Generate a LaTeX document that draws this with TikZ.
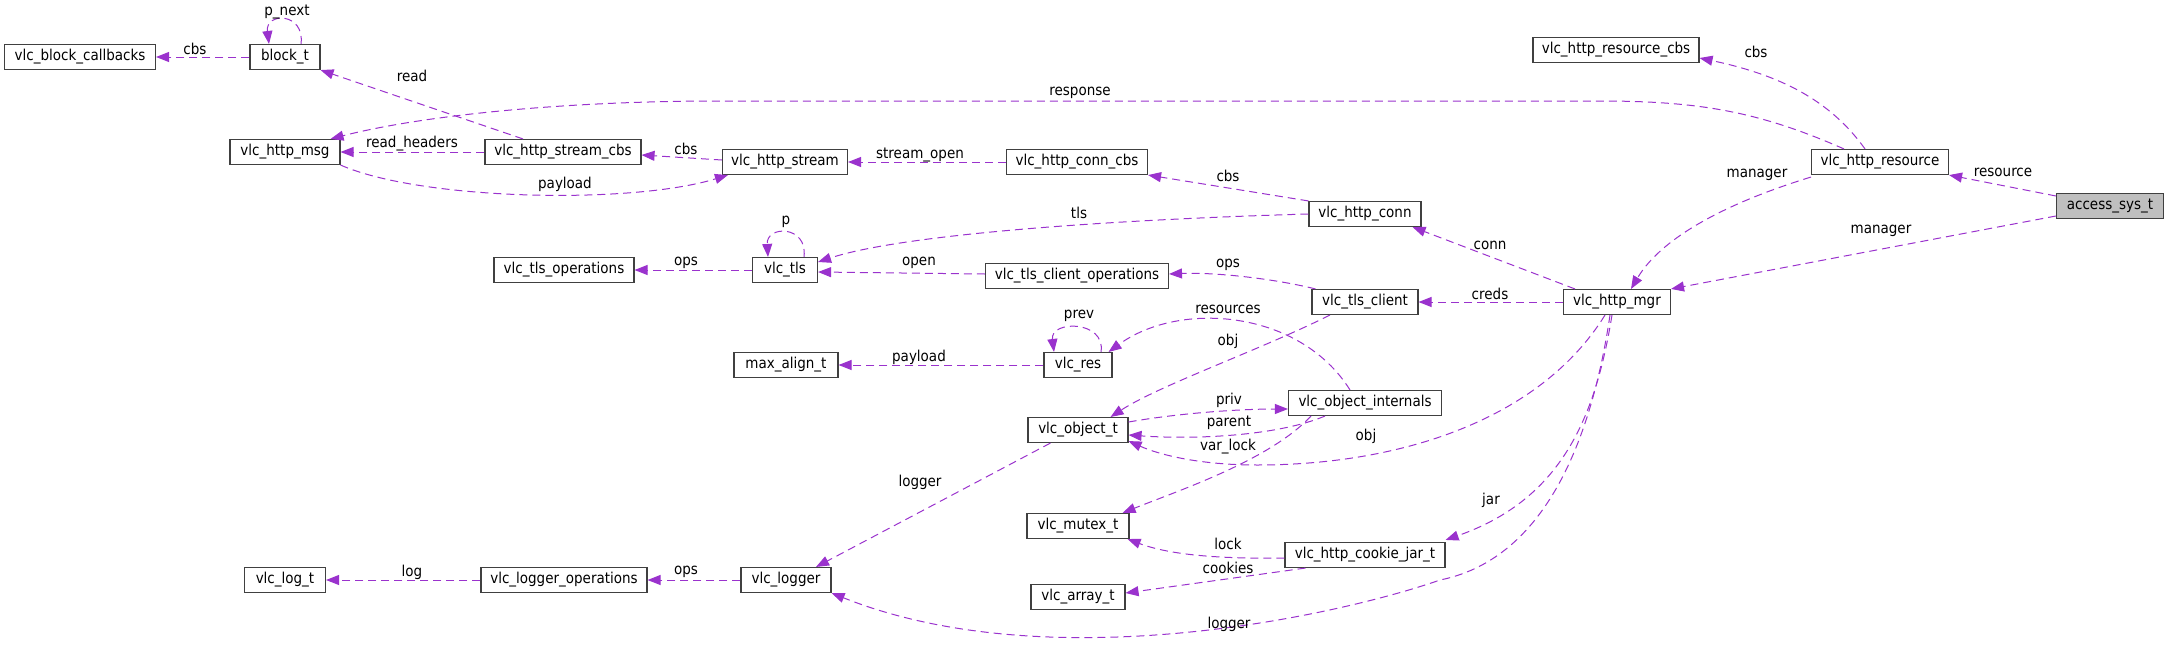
\documentclass[tikz,border=0pt]{standalone}
\usepackage{fontspec}
\setmainfont{DejaVu Sans Condensed}
\usetikzlibrary{arrows.meta}
\definecolor{edgecol}{HTML}{9A32CD}

\begin{document}
\begin{tikzpicture}[x=1pt, y=-1pt,
  cls/.style={rectangle, draw=black!75, line width=1.1pt, fill=white, minimum height=25, inner sep=0pt, font=\fontsize{15}{18}\selectfont},
  lbl/.style={inner sep=0pt, font=\fontsize{15}{18}\selectfont},
  edge/.style={draw=edgecol, line width=1pt, dash pattern=on 8pt off 5pt, -{Triangle[length=13pt, width=10pt]}}]
  \useasboundingbox (0,0) rectangle (2169,645);
  \node[cls, minimum width=151] (cb) at (80, 57) {vlc\_block\_callbacks};
  \node[cls, minimum width=70] (blk) at (285, 57) {block\_t};
  \node[cls, minimum width=110] (msg) at (285, 152) {vlc\_http\_msg};
  \node[cls, minimum width=156] (scbs) at (563, 152) {vlc\_http\_stream\_cbs};
  \node[cls, minimum width=125] (strm) at (785, 162) {vlc\_http\_stream};
  \node[cls, minimum width=141] (ccbs) at (1077, 162) {vlc\_http\_conn\_cbs};
  \node[cls, minimum width=112] (conn) at (1365, 214) {vlc\_http\_conn};
  \node[cls, minimum width=166] (rcbs) at (1616, 50) {vlc\_http\_resource\_cbs};
  \node[cls, minimum width=137] (res) at (1880, 162) {vlc\_http\_resource};
  \node[cls, minimum width=107, fill=gray!50] (acc) at (2110, 206) {access\_sys\_t};
  \node[cls, minimum width=107] (mgr) at (1617, 302) {vlc\_http\_mgr};
  \node[cls, minimum width=140] (tlsops) at (564, 270) {vlc\_tls\_operations};
  \node[cls, minimum width=65] (tls) at (785, 270) {vlc\_tls};
  \node[cls, minimum width=183] (tcops) at (1077, 276) {vlc\_tls\_client\_operations};
  \node[cls, minimum width=106] (tcl) at (1365, 302) {vlc\_tls\_client};
  \node[cls, minimum width=104] (maxal) at (786, 365) {max\_align\_t};
  \node[cls, minimum width=68] (vres) at (1078, 365) {vlc\_res};
  \node[cls, minimum width=153] (oint) at (1365, 403) {vlc\_object\_internals};
  \node[cls, minimum width=100] (obj) at (1078, 430) {vlc\_object\_t};
  \node[cls, minimum width=102] (mtx) at (1078, 526) {vlc\_mutex\_t};
  \node[cls, minimum width=90] (lgr) at (786, 580) {vlc\_logger};
  \node[cls, minimum width=160] (jar) at (1365, 555) {vlc\_http\_cookie\_jar\_t};
  \node[cls, minimum width=94] (arr) at (1078, 597) {vlc\_array\_t};
  \node[cls, minimum width=81] (logt) at (285, 580) {vlc\_log\_t};
  \node[cls, minimum width=166] (lops) at (564, 580) {vlc\_logger\_operations};
  \draw[edge] (blk.west) -- (cb.east) node[lbl] at (195, 49) {cbs};
  \draw[edge] ([xshift=16pt]blk.north) .. controls (305, 12) and (265, 12) .. ([xshift=-16pt]blk.north) node[lbl] at (287, 12) {p\_next};
  \draw[edge] ([xshift=-40pt]scbs.north) -- (blk.south east) node[lbl] at (412, 76) {read};
  \draw[edge] ([xshift=-36pt]res.north) .. controls (1760, 112) and (1700, 101) .. (1600, 101) -- (720, 101) .. controls (560, 101) and (420, 116) .. ([xshift=-10pt]msg.north east) node[lbl] at (1080, 93) {response};
  \draw[edge] (scbs.west) -- (msg.east) node[lbl] at (412, 144) {read\_headers};
  \draw[edge] (msg.south east) .. controls (420, 200) and (630, 205) .. ([xshift=6pt]strm.south west) node[lbl] at (565, 184) {payload};
  \draw[edge] ([yshift=2pt]strm.west) -- ([yshift=-3pt]scbs.east) node[lbl] at (686, 149) {cbs};
  \draw[edge] (ccbs.west) -- (strm.east) node[lbl] at (920, 155) {stream\_open};
  \draw[edge] (conn.north west) -- (ccbs.south east) node[lbl] at (1228, 176) {cbs};
  \draw[edge] (conn.west) .. controls (1100, 220) and (900, 235) .. ([yshift=8pt]tls.east) node[lbl] at (1079, 213) {tls};
  \draw[edge] ([xshift=19pt]tls.north) .. controls (808, 225) and (766, 225) .. ([xshift=-17pt]tls.north) node[lbl] at (786, 222) {p};
  \draw[edge] (tls.west) -- (tlsops.east) node[lbl] at (686, 263) {ops};
  \draw[edge] ([yshift=2pt]tcops.west) -- ([yshift=-2pt]tls.east) node[lbl] at (919, 263) {open};
  \draw[edge] ([xshift=4pt]tcl.north west) .. controls (1280, 280) and (1220, 272) .. ([yshift=2pt]tcops.east) node[lbl] at (1228, 265) {ops};
  \draw[edge] ([xshift=12pt]mgr.north west) -- ([xshift=-9pt]conn.south east) node[lbl] at (1490, 245) {conn};
  \draw[edge] (mgr.west) -- (tcl.east) node[lbl] at (1490, 294) {creds};
  \draw[edge] ([xshift=-15pt]res.north) .. controls (1830, 100) and (1780, 75) .. ([yshift=-8pt]rcbs.east) node[lbl] at (1756, 52) {cbs};
  \draw[edge] ([yshift=-2pt]res.south west) .. controls (1720, 205) and (1660, 240) .. ([xshift=14pt]mgr.north) node[lbl] at (1757, 175) {manager};
  \draw[edge] ([yshift=10pt]acc.west) -- (res.south east) node[lbl] at (2003, 172) {resource};
  \draw[edge] ([yshift=-10pt]acc.west) -- (mgr.north east) node[lbl] at (1881, 231) {manager};
  \draw[edge] ([xshift=23pt]vres.north) .. controls (1106, 320) and (1050, 320) .. ([xshift=-24pt]vres.north) node[lbl] at (1079, 316) {prev};
  \draw[edge] (vres.west) -- (maxal.east) node[lbl] at (919, 357) {payload};
  \draw[edge] ([xshift=-15pt]oint.north) .. controls (1300, 310) and (1180, 300) .. ([xshift=-4pt]vres.north east) node[lbl] at (1228, 309) {resources};
  \draw[edge] ([xshift=-35pt]tcl.south) .. controls (1260, 350) and (1160, 385) .. ([xshift=-18pt]obj.north east) node[lbl] at (1228, 341) {obj};
  \draw[edge] ([yshift=8pt]obj.east) .. controls (1180, 413) and (1240, 409) .. ([yshift=-6pt]oint.west) node[lbl] at (1229, 400) {priv};
  \draw[edge] ([xshift=37pt]oint.south west) .. controls (1280, 435) and (1200, 440) .. ([yshift=-5pt]obj.east) node[lbl] at (1229, 423) {parent};
  \draw[edge] ([xshift=-12pt]mgr.south) .. controls (1540, 420) and (1400, 465) .. (1257, 465) .. controls (1200, 465) and (1160, 455) .. ([yshift=2pt]obj.south east) node[lbl] at (1366, 436) {obj};
  \draw[edge] ([xshift=-54pt]oint.south) .. controls (1270, 460) and (1180, 490) .. ([xshift=-7pt]mtx.north east) node[lbl] at (1228, 447) {var\_lock};
  \draw[edge] ([xshift=23pt]obj.south west) -- ([xshift=30pt]lgr.north) node[lbl] at (920, 482) {logger};
  \draw[edge] (lgr.west) -- (lops.east) node[lbl] at (686, 572) {ops};
  \draw[edge] (lops.west) -- (logt.east) node[lbl] at (412, 572) {log};
  \draw[edge] ([yshift=-3pt]jar.west) .. controls (1220, 559) and (1170, 555) .. ([xshift=-2pt]mtx.south east) node[lbl] at (1228, 544) {lock};
  \draw[edge] ([xshift=21pt]jar.south west) -- ([yshift=4pt]arr.east) node[lbl] at (1228, 568) {cookies};
  \draw[edge] ([xshift=-5pt]mgr.south) .. controls (1595, 420) and (1560, 500) .. ([yshift=2pt]jar.north east) node[lbl] at (1491, 500) {jar};
  \draw[edge] ([xshift=-7pt]mgr.south) .. controls (1590, 450) and (1540, 560) .. (1440, 580) .. controls (1340, 615) and (1050, 680) .. (lgr.south east) node[lbl] at (1229, 624) {logger};
\end{tikzpicture}
\end{document}
